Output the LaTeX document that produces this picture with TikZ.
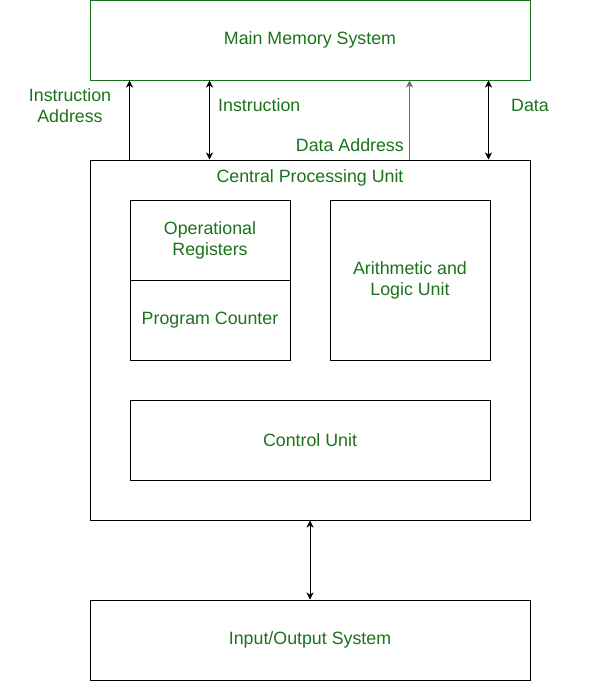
\documentclass[tikz,border=0pt]{standalone}
\usepackage{fontspec}
\setmainfont{Liberation Sans}
\usetikzlibrary{arrows.meta}
\definecolor{txtverde}{RGB}{26,115,26}
\definecolor{gris}{RGB}{110,110,110}

\begin{document}
\begin{tikzpicture}[x=1pt,y=-1pt,
  caja/.style={draw=black,line width=1pt,inner sep=0pt,align=center,text=txtverde,font=\fontsize{17.8}{21}\selectfont},
  etiq/.style={inner sep=0pt,align=center,text=txtverde,font=\fontsize{17.8}{21}\selectfont},
  punta/.tip={Stealth[length=7pt,width=7pt,inset=2pt]},
  flecha/.style={line width=1pt,-punta},
  dflecha/.style={line width=1pt,punta-punta}]
\useasboundingbox (0,0) rectangle (601,681);

% memoria principal
\node[caja,draw=txtverde,minimum width=440pt,minimum height=80pt] (mem) at (310,40) {Main Memory System};

% CPU y sus partes
\node[caja,minimum width=440pt,minimum height=360pt] (cpu) at (310,340) {};
\node[etiq] (cpulbl) at (310,177.5) {Central Processing Unit};
\node[caja,minimum width=160pt,minimum height=80pt] (reg) at (210,240) {Operational\\Registers};
\node[caja,minimum width=160pt,minimum height=80pt] (pc) at (210,320) {Program Counter};
\node[caja,minimum width=160pt,minimum height=160pt] (alu) at (410,280) {Arithmetic and\\Logic Unit};
\node[caja,minimum width=360pt,minimum height=80pt] (cu) at (310,440) {Control Unit};

% entrada/salida
\node[caja,minimum width=440pt,minimum height=80pt] (io) at (310,640) {Input/Output System};

% flechas entre memoria y CPU
\draw[flecha] ([xshift=40pt]cpu.north west) -- ([xshift=40pt]mem.south west);
\draw[dflecha] ([xshift=120pt]cpu.north west) -- ([xshift=120pt]mem.south west);
\draw[flecha,draw=gris,line width=1.3pt] ([xshift=320pt]cpu.north west) -- ([xshift=320pt]mem.south west);
\draw[dflecha] ([xshift=-42pt]cpu.north east) -- ([xshift=-42pt]mem.south east);

% etiquetas de las flechas
\node[etiq] (insaddr) at (70,105.5) {Instruction\\Address};
\node[etiq,anchor=west] (ins) at (218,105.5) {Instruction};
\node[etiq,anchor=east] (dataddr) at (404,145.5) {Data Address};
\node[etiq,anchor=west] (dat) at (511,105.5) {Data};

% flecha CPU - E/S
\draw[dflecha] (cpu.south) -- (io.north);
\end{tikzpicture}
\end{document}
